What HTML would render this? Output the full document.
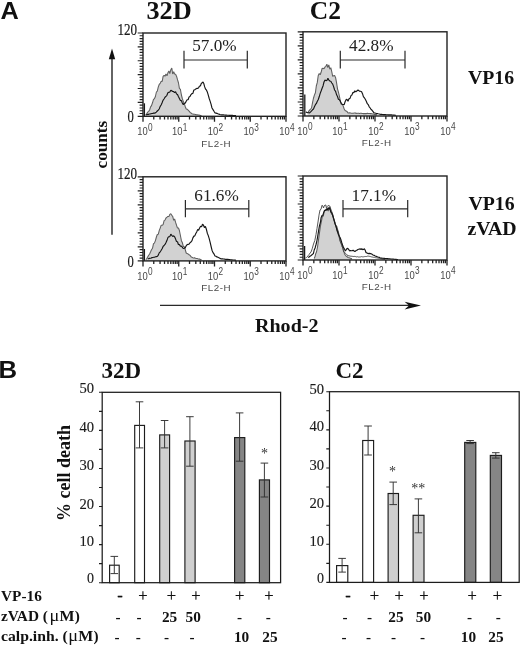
<!DOCTYPE html>
<html><head><meta charset="utf-8"><title>Figure</title>
<style>
html,body{margin:0;padding:0;background:#fff;}
body{width:520px;height:646px;overflow:hidden;}
svg{display:block;filter:grayscale(1);}
text{font-family:"Liberation Serif",serif;fill:#111;}
.pl{font-family:"Liberation Sans",sans-serif;font-weight:bold;font-size:23px;fill:#111;}
.t25{font-weight:bold;font-size:25.5px;}
.t23{font-weight:bold;font-size:23px;}
.t20{font-weight:bold;font-size:19.8px;}
.t19{font-weight:bold;font-size:19px;}
.t17{font-weight:bold;font-size:17.5px;}
.t15{font-weight:bold;font-size:15.3px;}
.mu{font-weight:normal;font-size:16.5px;}
.pm{font-weight:normal;font-size:16.5px;fill:#111;stroke:#111;stroke-width:0.25px;}
.pct{font-size:17.2px;fill:#222;}
.yl{font-size:15.8px;fill:#1a1a1a;stroke:#1a1a1a;stroke-width:0.2px;}
.bl{font-size:15.6px;fill:#1a1a1a;stroke:#1a1a1a;stroke-width:0.15px;}
.star{font-size:14px;fill:#333;}
.xs{font-family:"Liberation Sans",sans-serif;font-size:10.5px;fill:#474747;}
.fl{font-family:"Liberation Sans",sans-serif;font-size:9.8px;letter-spacing:0.55px;fill:#4a4a4a;}
</style></head>
<body>
<svg width="520" height="646" viewBox="0 0 520 646">
<rect x="0" y="0" width="520" height="646" fill="#fff"/>
<text x="0.6" y="18.8" class="pl" textLength="18.3" lengthAdjust="spacingAndGlyphs">A</text>
<text x="146.5" y="18.8" class="t25" textLength="45.2" lengthAdjust="spacingAndGlyphs">32D</text>
<text x="309.8" y="18.6" class="t25">C2</text>
<path d="M145.8 114.8 L146.8 113.5 L147.7 112.1 L148.7 111.4 L149.6 110.0 L150.6 106.9 L151.5 105.6 L152.5 102.8 L153.5 99.4 L154.4 98.8 L155.4 96.5 L156.4 92.0 L157.3 91.1 L158.3 86.9 L159.3 84.3 L160.2 83.4 L161.2 81.2 L162.2 81.5 L163.1 76.3 L164.1 75.3 L165.0 76.2 L166.0 74.0 L167.0 75.8 L167.9 72.8 L168.9 70.9 L169.8 73.5 L170.8 69.8 L171.8 68.1 L172.7 74.0 L173.7 71.7 L174.6 74.0 L175.6 74.3 L176.6 76.4 L177.5 79.7 L178.5 83.0 L179.4 88.4 L180.4 89.3 L181.4 95.0 L182.3 98.5 L183.3 101.6 L184.2 103.4 L185.2 106.5 L186.2 109.0 L187.2 109.2 L188.1 110.1 L189.1 111.1 L190.1 112.3 L191.0 113.0 L192.0 113.8 L192.9 113.9 L193.7 114.2 L194.6 114.3 L195.5 114.4 L196.3 114.7 L197.2 114.8 L198.0 114.9 L198.9 115.1 L199.8 115.3 L200.6 115.5 L201.5 115.6 L201.5 116.3 L145.8 116.3 Z" fill="#d2d2d2" stroke="none"/>
<path d="M145.8 114.8 L146.8 113.5 L147.7 112.1 L148.7 111.4 L149.6 110.0 L150.6 106.9 L151.5 105.6 L152.5 102.8 L153.5 99.4 L154.4 98.8 L155.4 96.5 L156.4 92.0 L157.3 91.1 L158.3 86.9 L159.3 84.3 L160.2 83.4 L161.2 81.2 L162.2 81.5 L163.1 76.3 L164.1 75.3 L165.0 76.2 L166.0 74.0 L167.0 75.8 L167.9 72.8 L168.9 70.9 L169.8 73.5 L170.8 69.8 L171.8 68.1 L172.7 74.0 L173.7 71.7 L174.6 74.0 L175.6 74.3 L176.6 76.4 L177.5 79.7 L178.5 83.0 L179.4 88.4 L180.4 89.3 L181.4 95.0 L182.3 98.5 L183.3 101.6 L184.2 103.4 L185.2 106.5 L186.2 109.0 L187.2 109.2 L188.1 110.1 L189.1 111.1 L190.1 112.3 L191.0 113.0 L192.0 113.8 L192.9 113.9 L193.7 114.2 L194.6 114.3 L195.5 114.4 L196.3 114.7 L197.2 114.8 L198.0 114.9 L198.9 115.1 L199.8 115.3 L200.6 115.5 L201.5 115.6" fill="none" stroke="#5e5e5e" stroke-width="1.05" stroke-linejoin="bevel"/>
<path d="M145.8 114.8 L146.7 114.7 L147.5 114.4 L148.4 114.4 L149.3 114.0 L150.2 113.9 L151.0 113.8 L151.9 113.5 L152.8 113.4 L153.7 113.1 L154.5 113.1 L155.4 112.9 L156.3 112.1 L157.3 111.0 L158.2 110.2 L159.2 109.0 L160.1 106.6 L161.1 105.0 L162.1 102.7 L163.0 100.4 L164.0 99.0 L165.0 97.2 L165.9 96.5 L166.9 95.3 L167.9 92.7 L168.8 92.2 L169.8 92.1 L170.8 90.2 L171.7 90.8 L172.7 91.5 L173.6 91.6 L174.6 92.7 L175.6 91.7 L176.6 94.1 L177.5 94.6 L178.4 96.6 L179.4 98.5 L180.4 100.4 L181.4 100.6 L182.3 103.0 L183.3 104.6 L184.2 103.4 L185.2 103.3 L186.2 101.2 L187.1 99.7 L188.1 99.8 L189.0 97.1 L190.0 96.5 L191.0 94.6 L191.9 93.6 L192.9 93.4 L193.8 90.1 L194.8 89.8 L195.8 88.9 L196.7 88.4 L197.7 88.5 L198.6 87.6 L199.6 86.0 L200.4 86.0 L201.3 83.4 L202.2 82.8 L203.0 82.0 L203.8 83.6 L204.7 86.9 L205.5 89.0 L206.3 89.8 L207.3 91.9 L208.2 94.9 L209.2 98.5 L210.1 101.1 L211.1 104.4 L212.0 108.0 L213.0 109.6 L214.0 111.3 L215.0 112.9 L216.0 113.1 L216.9 113.4 L217.9 113.8 L218.9 114.1 L219.8 114.5 L220.8 114.8 L221.7 114.9 L222.6 114.9 L223.5 114.9 L224.4 115.0 L225.3 115.1 L226.2 115.0 L227.1 115.2 L228.0 115.2 L228.8 115.3 L229.7 115.3 L230.6 115.3 L231.5 115.4 L232.4 115.4 L233.3 115.5 L234.2 115.5 L235.1 115.5 L236.0 115.6" fill="none" stroke="#161616" stroke-width="1.15" stroke-linejoin="bevel"/>
<path d="M144.4 103.3 V116.3" stroke="#1a1a1a" stroke-width="1.3"/>
<rect x="143.0" y="33.0" width="143.0" height="83.3" fill="none" stroke="#222" stroke-width="1.4"/>
<path d="M137.7 33.00H143.0M139.6 35.78H143.0M139.6 38.55H143.0M139.6 41.33H143.0M139.6 44.11H143.0M137.7 46.88H143.0M139.6 49.66H143.0M139.6 52.44H143.0M139.6 55.21H143.0M139.6 57.99H143.0M137.7 60.77H143.0M139.6 63.54H143.0M139.6 66.32H143.0M139.6 69.10H143.0M139.6 71.87H143.0M137.7 74.65H143.0M139.6 77.43H143.0M139.6 80.20H143.0M139.6 82.98H143.0M139.6 85.76H143.0M137.7 88.53H143.0M139.6 91.31H143.0M139.6 94.09H143.0M139.6 96.86H143.0M139.6 99.64H143.0M137.7 102.42H143.0M139.6 105.19H143.0M139.6 107.97H143.0M139.6 110.75H143.0M139.6 113.52H143.0M137.7 116.30H143.0" stroke="#222" stroke-width="1.15"/>
<path d="M143.00 116.3V121.8M153.76 116.3V119.5M160.06 116.3V119.5M164.52 116.3V119.5M167.99 116.3V119.5M170.82 116.3V119.5M173.21 116.3V119.5M175.29 116.3V119.5M177.11 116.3V119.5M178.75 116.3V121.8M189.51 116.3V119.5M195.81 116.3V119.5M200.27 116.3V119.5M203.74 116.3V119.5M206.57 116.3V119.5M208.96 116.3V119.5M211.04 116.3V119.5M212.86 116.3V119.5M214.50 116.3V121.8M225.26 116.3V119.5M231.56 116.3V119.5M236.02 116.3V119.5M239.49 116.3V119.5M242.32 116.3V119.5M244.71 116.3V119.5M246.79 116.3V119.5M248.61 116.3V119.5M250.25 116.3V121.8M261.01 116.3V119.5M267.31 116.3V119.5M271.77 116.3V119.5M275.24 116.3V119.5M278.07 116.3V119.5M280.46 116.3V119.5M282.54 116.3V119.5M284.36 116.3V119.5M286.00 116.3V121.8" stroke="#222" stroke-width="1.3"/>
<text x="142.5" y="135.4" class="xs" text-anchor="middle" textLength="10.5" lengthAdjust="spacingAndGlyphs">10</text>
<text x="147.9" y="130.5" class="xs" textLength="4.6" lengthAdjust="spacingAndGlyphs">0</text>
<text x="177.3" y="135.4" class="xs" text-anchor="middle" textLength="10.5" lengthAdjust="spacingAndGlyphs">10</text>
<text x="182.8" y="130.5" class="xs" textLength="4.6" lengthAdjust="spacingAndGlyphs">1</text>
<text x="213.1" y="135.4" class="xs" text-anchor="middle" textLength="10.5" lengthAdjust="spacingAndGlyphs">10</text>
<text x="218.5" y="130.5" class="xs" textLength="4.6" lengthAdjust="spacingAndGlyphs">2</text>
<text x="248.8" y="135.4" class="xs" text-anchor="middle" textLength="10.5" lengthAdjust="spacingAndGlyphs">10</text>
<text x="254.2" y="130.5" class="xs" textLength="4.6" lengthAdjust="spacingAndGlyphs">3</text>
<text x="284.6" y="135.4" class="xs" text-anchor="middle" textLength="10.5" lengthAdjust="spacingAndGlyphs">10</text>
<text x="290.0" y="130.5" class="xs" textLength="4.6" lengthAdjust="spacingAndGlyphs">4</text>
<text x="216.2" y="146.6" class="fl" text-anchor="middle">FL2-H</text>
<text x="137.0" y="35.0" class="yl" text-anchor="end" textLength="19.6" lengthAdjust="spacingAndGlyphs">120</text>
<text x="133.8" y="121.9" class="yl" text-anchor="end" textLength="6.3" lengthAdjust="spacingAndGlyphs">0</text>
<path d="M184.0 50.8V68.6M247.3 50.8V68.6M184.0 60.0H247.3" stroke="#2a2a2a" stroke-width="1.2" fill="none"/>
<text x="214.4" y="51.4" class="pct" text-anchor="middle">57.0%</text>
<path d="M307.7 112.9 L308.6 111.4 L309.6 110.1 L310.6 109.0 L311.5 108.0 L312.5 102.9 L313.4 98.5 L314.4 95.1 L315.4 92.7 L316.3 86.0 L317.3 82.4 L318.2 75.7 L319.2 73.5 L320.2 74.7 L321.1 72.3 L322.1 68.5 L323.0 68.2 L324.0 68.7 L325.0 67.0 L325.9 66.3 L326.9 64.1 L327.8 67.7 L328.8 64.8 L329.8 69.2 L330.8 67.7 L331.8 71.8 L332.7 76.3 L333.6 75.8 L334.6 75.4 L335.6 77.7 L336.5 82.4 L337.5 88.8 L338.5 92.3 L339.4 96.2 L340.4 101.3 L341.3 104.3 L342.3 104.3 L343.2 106.1 L344.2 109.0 L345.1 110.5 L346.1 111.0 L347.1 111.6 L348.0 112.9 L348.9 113.0 L349.8 112.7 L350.6 113.0 L351.5 113.3 L352.4 113.3 L353.3 113.2 L354.2 113.0 L355.1 113.1 L355.9 113.1 L356.8 113.4 L357.7 113.3 L358.6 113.3 L359.5 113.5 L360.4 113.3 L361.2 113.2 L362.1 113.5 L363.0 113.6 L363.9 113.6 L364.8 113.6 L365.7 113.6 L366.5 113.6 L367.4 113.3 L368.3 113.5 L369.2 113.5 L370.1 113.6 L370.9 113.6 L371.8 113.8 L372.7 114.0 L373.5 114.1 L374.4 114.4 L375.3 114.6 L376.1 114.6 L377.0 114.8 L377.0 116.0 L307.7 116.0 Z" fill="#d2d2d2" stroke="none"/>
<path d="M307.7 112.9 L308.6 111.4 L309.6 110.1 L310.6 109.0 L311.5 108.0 L312.5 102.9 L313.4 98.5 L314.4 95.1 L315.4 92.7 L316.3 86.0 L317.3 82.4 L318.2 75.7 L319.2 73.5 L320.2 74.7 L321.1 72.3 L322.1 68.5 L323.0 68.2 L324.0 68.7 L325.0 67.0 L325.9 66.3 L326.9 64.1 L327.8 67.7 L328.8 64.8 L329.8 69.2 L330.8 67.7 L331.8 71.8 L332.7 76.3 L333.6 75.8 L334.6 75.4 L335.6 77.7 L336.5 82.4 L337.5 88.8 L338.5 92.3 L339.4 96.2 L340.4 101.3 L341.3 104.3 L342.3 104.3 L343.2 106.1 L344.2 109.0 L345.1 110.5 L346.1 111.0 L347.1 111.6 L348.0 112.9 L348.9 113.0 L349.8 112.7 L350.6 113.0 L351.5 113.3 L352.4 113.3 L353.3 113.2 L354.2 113.0 L355.1 113.1 L355.9 113.1 L356.8 113.4 L357.7 113.3 L358.6 113.3 L359.5 113.5 L360.4 113.3 L361.2 113.2 L362.1 113.5 L363.0 113.6 L363.9 113.6 L364.8 113.6 L365.7 113.6 L366.5 113.6 L367.4 113.3 L368.3 113.5 L369.2 113.5 L370.1 113.6 L370.9 113.6 L371.8 113.8 L372.7 114.0 L373.5 114.1 L374.4 114.4 L375.3 114.6 L376.1 114.6 L377.0 114.8" fill="none" stroke="#5e5e5e" stroke-width="1.05" stroke-linejoin="bevel"/>
<path d="M305.8 112.0 L306.8 112.4 L307.7 112.6 L308.7 112.8 L309.6 112.9 L310.6 111.9 L311.6 110.8 L312.5 109.8 L313.5 109.0 L314.4 106.7 L315.4 104.7 L316.4 103.4 L317.3 101.3 L318.3 99.5 L319.2 96.8 L320.2 93.4 L321.2 90.8 L322.1 88.3 L323.1 85.7 L324.0 82.0 L325.0 79.9 L325.9 80.6 L326.9 80.4 L327.9 78.3 L328.9 80.1 L329.8 81.0 L330.8 81.2 L331.8 83.0 L332.7 84.1 L333.7 86.9 L334.6 90.0 L335.6 91.3 L336.6 94.8 L337.5 96.5 L338.4 99.2 L339.4 99.7 L340.4 101.4 L341.3 103.3 L342.3 104.5 L343.2 104.5 L344.2 104.6 L345.2 101.4 L346.2 99.4 L347.1 99.6 L348.0 101.3 L349.0 98.7 L350.0 98.4 L351.0 95.6 L351.9 95.1 L352.9 92.4 L353.9 92.8 L354.8 90.8 L355.8 91.9 L356.8 91.0 L357.7 90.1 L358.7 90.4 L359.6 91.3 L360.6 91.2 L361.6 91.7 L362.5 93.7 L363.4 96.6 L364.4 97.8 L365.4 99.5 L366.3 101.3 L367.3 103.7 L368.2 104.6 L369.2 106.8 L370.2 108.0 L371.1 109.5 L372.1 110.3 L373.1 111.6 L374.0 112.9 L374.9 113.0 L375.7 113.2 L376.6 113.5 L377.4 113.6 L378.2 113.8 L379.1 114.0 L379.9 114.3 L380.8 114.4 L381.7 114.4 L382.6 114.5 L383.5 114.6 L384.4 114.6 L385.3 114.6 L386.2 114.7 L387.1 114.7 L388.0 114.8 L388.8 114.8 L389.7 114.8 L390.6 114.9 L391.5 114.9 L392.4 115.0 L393.3 115.1 L394.2 115.1 L395.1 115.2 L396.0 115.2" fill="none" stroke="#161616" stroke-width="1.15" stroke-linejoin="bevel"/>
<path d="M304.8 94.6 V116.0" stroke="#1a1a1a" stroke-width="1.3"/>
<rect x="303.0" y="31.8" width="144.0" height="84.2" fill="none" stroke="#222" stroke-width="1.4"/>
<path d="M297.7 31.80H303.0M299.6 34.61H303.0M299.6 37.41H303.0M299.6 40.22H303.0M299.6 43.03H303.0M297.7 45.83H303.0M299.6 48.64H303.0M299.6 51.45H303.0M299.6 54.25H303.0M299.6 57.06H303.0M297.7 59.87H303.0M299.6 62.67H303.0M299.6 65.48H303.0M299.6 68.29H303.0M299.6 71.09H303.0M297.7 73.90H303.0M299.6 76.71H303.0M299.6 79.51H303.0M299.6 82.32H303.0M299.6 85.13H303.0M297.7 87.93H303.0M299.6 90.74H303.0M299.6 93.55H303.0M299.6 96.35H303.0M299.6 99.16H303.0M297.7 101.97H303.0M299.6 104.77H303.0M299.6 107.58H303.0M299.6 110.39H303.0M299.6 113.19H303.0M297.7 116.00H303.0" stroke="#222" stroke-width="1.15"/>
<path d="M303.00 116.0V121.5M313.84 116.0V119.2M320.18 116.0V119.2M324.67 116.0V119.2M328.16 116.0V119.2M331.01 116.0V119.2M333.42 116.0V119.2M335.51 116.0V119.2M337.35 116.0V119.2M339.00 116.0V121.5M349.84 116.0V119.2M356.18 116.0V119.2M360.67 116.0V119.2M364.16 116.0V119.2M367.01 116.0V119.2M369.42 116.0V119.2M371.51 116.0V119.2M373.35 116.0V119.2M375.00 116.0V121.5M385.84 116.0V119.2M392.18 116.0V119.2M396.67 116.0V119.2M400.16 116.0V119.2M403.01 116.0V119.2M405.42 116.0V119.2M407.51 116.0V119.2M409.35 116.0V119.2M411.00 116.0V121.5M421.84 116.0V119.2M428.18 116.0V119.2M432.67 116.0V119.2M436.16 116.0V119.2M439.01 116.0V119.2M441.42 116.0V119.2M443.51 116.0V119.2M445.35 116.0V119.2M447.00 116.0V121.5" stroke="#222" stroke-width="1.3"/>
<text x="302.5" y="135.1" class="xs" text-anchor="middle" textLength="10.5" lengthAdjust="spacingAndGlyphs">10</text>
<text x="307.9" y="130.2" class="xs" textLength="4.6" lengthAdjust="spacingAndGlyphs">0</text>
<text x="337.6" y="135.1" class="xs" text-anchor="middle" textLength="10.5" lengthAdjust="spacingAndGlyphs">10</text>
<text x="343.0" y="130.2" class="xs" textLength="4.6" lengthAdjust="spacingAndGlyphs">1</text>
<text x="373.6" y="135.1" class="xs" text-anchor="middle" textLength="10.5" lengthAdjust="spacingAndGlyphs">10</text>
<text x="379.0" y="130.2" class="xs" textLength="4.6" lengthAdjust="spacingAndGlyphs">2</text>
<text x="409.6" y="135.1" class="xs" text-anchor="middle" textLength="10.5" lengthAdjust="spacingAndGlyphs">10</text>
<text x="415.0" y="130.2" class="xs" textLength="4.6" lengthAdjust="spacingAndGlyphs">3</text>
<text x="445.6" y="135.1" class="xs" text-anchor="middle" textLength="10.5" lengthAdjust="spacingAndGlyphs">10</text>
<text x="451.0" y="130.2" class="xs" textLength="4.6" lengthAdjust="spacingAndGlyphs">4</text>
<text x="376.7" y="146.3" class="fl" text-anchor="middle">FL2-H</text>
<path d="M340.3 50.8V68.6M405.0 50.8V68.6M340.3 60.0H405.0" stroke="#2a2a2a" stroke-width="1.2" fill="none"/>
<text x="371.3" y="51.4" class="pct" text-anchor="middle">42.8%</text>
<path d="M145.8 259.8 L146.8 258.5 L147.7 256.9 L148.7 255.3 L149.6 254.0 L150.6 251.8 L151.5 249.7 L152.5 248.3 L153.5 243.6 L154.4 243.1 L155.4 240.6 L156.4 237.0 L157.3 234.5 L158.3 234.2 L159.3 230.4 L160.2 228.1 L161.2 225.2 L162.2 225.2 L163.1 224.6 L164.1 220.6 L165.0 220.1 L166.0 218.0 L167.0 217.2 L167.9 216.4 L168.9 216.6 L169.8 214.4 L170.8 213.8 L171.8 215.3 L172.7 216.3 L173.7 220.3 L174.6 219.0 L175.6 222.4 L176.6 225.5 L177.5 228.1 L178.5 228.0 L179.4 230.5 L180.4 235.5 L181.4 240.7 L182.3 242.5 L183.3 246.4 L184.2 246.6 L185.2 249.5 L186.2 253.0 L187.2 253.6 L188.1 253.9 L189.1 254.8 L190.1 255.4 L191.0 256.7 L192.0 257.3 L192.9 257.7 L193.7 258.0 L194.6 257.7 L195.5 258.2 L196.3 258.4 L197.2 258.4 L198.0 258.9 L198.9 259.1 L199.8 259.1 L200.6 259.5 L201.5 259.6 L201.5 260.9 L145.8 260.9 Z" fill="#d2d2d2" stroke="none"/>
<path d="M145.8 259.8 L146.8 258.5 L147.7 256.9 L148.7 255.3 L149.6 254.0 L150.6 251.8 L151.5 249.7 L152.5 248.3 L153.5 243.6 L154.4 243.1 L155.4 240.6 L156.4 237.0 L157.3 234.5 L158.3 234.2 L159.3 230.4 L160.2 228.1 L161.2 225.2 L162.2 225.2 L163.1 224.6 L164.1 220.6 L165.0 220.1 L166.0 218.0 L167.0 217.2 L167.9 216.4 L168.9 216.6 L169.8 214.4 L170.8 213.8 L171.8 215.3 L172.7 216.3 L173.7 220.3 L174.6 219.0 L175.6 222.4 L176.6 225.5 L177.5 228.1 L178.5 228.0 L179.4 230.5 L180.4 235.5 L181.4 240.7 L182.3 242.5 L183.3 246.4 L184.2 246.6 L185.2 249.5 L186.2 253.0 L187.2 253.6 L188.1 253.9 L189.1 254.8 L190.1 255.4 L191.0 256.7 L192.0 257.3 L192.9 257.7 L193.7 258.0 L194.6 257.7 L195.5 258.2 L196.3 258.4 L197.2 258.4 L198.0 258.9 L198.9 259.1 L199.8 259.1 L200.6 259.5 L201.5 259.6" fill="none" stroke="#5e5e5e" stroke-width="1.05" stroke-linejoin="bevel"/>
<path d="M147.7 258.8 L148.6 258.6 L149.4 258.4 L150.3 258.3 L151.2 258.1 L152.1 257.6 L152.9 257.5 L153.8 257.3 L154.7 257.1 L155.6 256.8 L156.4 256.6 L157.3 256.5 L158.3 255.1 L159.2 252.9 L160.2 251.8 L161.2 250.2 L162.1 248.7 L163.1 246.4 L164.1 245.5 L165.0 244.4 L165.9 242.7 L166.9 240.6 L167.9 237.6 L168.8 236.7 L169.8 236.6 L170.8 234.2 L171.8 235.4 L172.7 236.4 L173.7 235.8 L174.6 236.8 L175.6 239.1 L176.5 241.5 L177.5 241.7 L178.4 244.5 L179.4 244.6 L180.4 246.3 L181.3 246.1 L182.3 247.2 L183.2 248.5 L184.2 248.3 L185.1 247.9 L186.1 245.9 L187.1 244.7 L188.0 244.4 L189.0 244.3 L190.0 242.7 L191.0 242.0 L192.0 240.6 L192.9 237.9 L193.9 236.1 L194.8 235.9 L195.8 233.5 L196.7 232.0 L197.7 229.4 L198.6 230.3 L199.6 228.0 L200.6 226.2 L201.6 226.7 L202.5 224.3 L203.5 225.2 L204.4 227.5 L205.4 226.5 L206.3 229.0 L207.3 233.2 L208.2 235.4 L209.2 238.7 L210.1 242.2 L211.1 246.5 L212.0 250.2 L213.0 252.6 L214.0 253.9 L215.0 256.0 L216.0 256.3 L216.9 256.9 L217.9 257.3 L218.9 257.7 L219.8 258.2 L220.8 258.8 L221.7 258.8 L222.6 258.9 L223.5 259.0 L224.4 259.1 L225.3 259.3 L226.2 259.3 L227.1 259.4 L228.0 259.4 L228.8 259.5 L229.7 259.6 L230.6 259.7 L231.5 259.7 L232.4 259.9 L233.3 260.0 L234.2 260.0 L235.1 260.1 L236.0 260.2" fill="none" stroke="#161616" stroke-width="1.15" stroke-linejoin="bevel"/>
<path d="M144.4 249.0 V260.9" stroke="#1a1a1a" stroke-width="1.3"/>
<rect x="143.0" y="176.8" width="143.0" height="84.1" fill="none" stroke="#222" stroke-width="1.4"/>
<path d="M137.7 176.80H143.0M139.6 179.60H143.0M139.6 182.41H143.0M139.6 185.21H143.0M139.6 188.01H143.0M137.7 190.82H143.0M139.6 193.62H143.0M139.6 196.42H143.0M139.6 199.23H143.0M139.6 202.03H143.0M137.7 204.83H143.0M139.6 207.64H143.0M139.6 210.44H143.0M139.6 213.24H143.0M139.6 216.05H143.0M137.7 218.85H143.0M139.6 221.65H143.0M139.6 224.46H143.0M139.6 227.26H143.0M139.6 230.06H143.0M137.7 232.87H143.0M139.6 235.67H143.0M139.6 238.47H143.0M139.6 241.28H143.0M139.6 244.08H143.0M137.7 246.88H143.0M139.6 249.69H143.0M139.6 252.49H143.0M139.6 255.29H143.0M139.6 258.10H143.0M137.7 260.90H143.0" stroke="#222" stroke-width="1.15"/>
<path d="M143.00 260.9V266.4M153.76 260.9V264.1M160.06 260.9V264.1M164.52 260.9V264.1M167.99 260.9V264.1M170.82 260.9V264.1M173.21 260.9V264.1M175.29 260.9V264.1M177.11 260.9V264.1M178.75 260.9V266.4M189.51 260.9V264.1M195.81 260.9V264.1M200.27 260.9V264.1M203.74 260.9V264.1M206.57 260.9V264.1M208.96 260.9V264.1M211.04 260.9V264.1M212.86 260.9V264.1M214.50 260.9V266.4M225.26 260.9V264.1M231.56 260.9V264.1M236.02 260.9V264.1M239.49 260.9V264.1M242.32 260.9V264.1M244.71 260.9V264.1M246.79 260.9V264.1M248.61 260.9V264.1M250.25 260.9V266.4M261.01 260.9V264.1M267.31 260.9V264.1M271.77 260.9V264.1M275.24 260.9V264.1M278.07 260.9V264.1M280.46 260.9V264.1M282.54 260.9V264.1M284.36 260.9V264.1M286.00 260.9V266.4" stroke="#222" stroke-width="1.3"/>
<text x="142.5" y="280.0" class="xs" text-anchor="middle" textLength="10.5" lengthAdjust="spacingAndGlyphs">10</text>
<text x="147.9" y="275.1" class="xs" textLength="4.6" lengthAdjust="spacingAndGlyphs">0</text>
<text x="177.3" y="280.0" class="xs" text-anchor="middle" textLength="10.5" lengthAdjust="spacingAndGlyphs">10</text>
<text x="182.8" y="275.1" class="xs" textLength="4.6" lengthAdjust="spacingAndGlyphs">1</text>
<text x="213.1" y="280.0" class="xs" text-anchor="middle" textLength="10.5" lengthAdjust="spacingAndGlyphs">10</text>
<text x="218.5" y="275.1" class="xs" textLength="4.6" lengthAdjust="spacingAndGlyphs">2</text>
<text x="248.8" y="280.0" class="xs" text-anchor="middle" textLength="10.5" lengthAdjust="spacingAndGlyphs">10</text>
<text x="254.2" y="275.1" class="xs" textLength="4.6" lengthAdjust="spacingAndGlyphs">3</text>
<text x="284.6" y="280.0" class="xs" text-anchor="middle" textLength="10.5" lengthAdjust="spacingAndGlyphs">10</text>
<text x="290.0" y="275.1" class="xs" textLength="4.6" lengthAdjust="spacingAndGlyphs">4</text>
<text x="216.2" y="291.2" class="fl" text-anchor="middle">FL2-H</text>
<text x="137.0" y="178.8" class="yl" text-anchor="end" textLength="19.6" lengthAdjust="spacingAndGlyphs">120</text>
<text x="133.8" y="266.5" class="yl" text-anchor="end" textLength="6.3" lengthAdjust="spacingAndGlyphs">0</text>
<path d="M185.4 200.0V217.3M248.8 200.0V217.3M185.4 208.8H248.8" stroke="#2a2a2a" stroke-width="1.2" fill="none"/>
<text x="216.5" y="200.8" class="pct" text-anchor="middle">61.6%</text>
<path d="M314.2 258.5 L315.0 256.6 L315.7 253.7 L316.5 252.0 L317.5 247.1 L318.5 240.0 L319.5 232.7 L320.5 226.0 L321.5 221.0 L322.5 216.0 L323.3 216.2 L324.2 211.7 L325.0 210.5 L325.8 209.9 L326.7 210.3 L327.5 208.5 L328.3 211.2 L329.0 207.1 L329.8 207.8 L330.7 212.1 L331.5 213.6 L332.4 214.7 L333.3 218.3 L334.1 219.8 L335.0 222.4 L335.9 226.0 L336.8 226.4 L337.6 229.4 L338.4 231.8 L339.3 236.3 L340.2 240.5 L341.1 241.8 L342.0 246.0 L342.8 247.8 L343.7 250.5 L344.5 254.0 L345.4 255.2 L346.2 256.1 L347.1 256.7 L348.0 257.5 L349.0 257.7 L350.0 258.1 L351.0 258.4 L352.0 258.8 L352.0 260.0 L314.2 260.0 Z" fill="#d2d2d2" stroke="none"/>
<path d="M314.2 258.5 L315.0 256.6 L315.7 253.7 L316.5 252.0 L317.5 247.1 L318.5 240.0 L319.5 232.7 L320.5 226.0 L321.5 221.0 L322.5 216.0 L323.3 216.2 L324.2 211.7 L325.0 210.5 L325.8 209.9 L326.7 210.3 L327.5 208.5 L328.3 211.2 L329.0 207.1 L329.8 207.8 L330.7 212.1 L331.5 213.6 L332.4 214.7 L333.3 218.3 L334.1 219.8 L335.0 222.4 L335.9 226.0 L336.8 226.4 L337.6 229.4 L338.4 231.8 L339.3 236.3 L340.2 240.5 L341.1 241.8 L342.0 246.0 L342.8 247.8 L343.7 250.5 L344.5 254.0 L345.4 255.2 L346.2 256.1 L347.1 256.7 L348.0 257.5 L349.0 257.7 L350.0 258.1 L351.0 258.4 L352.0 258.8" fill="none" stroke="#5e5e5e" stroke-width="1.05" stroke-linejoin="bevel"/>
<path d="M305.5 258.0 L306.4 257.5 L307.3 257.0 L308.2 255.6 L309.1 254.5 L310.1 253.0 L311.0 252.0 L312.2 248.8 L313.5 244.0 L314.8 240.5 L316.0 234.6 L317.0 228.4 L318.0 222.0 L319.0 215.1 L320.0 210.0 L321.0 209.3 L322.0 205.2 L322.8 205.9 L323.5 208.0 L324.2 206.0 L325.0 205.0 L325.8 205.0 L326.5 208.5 L327.2 206.6 L328.0 205.5 L328.9 205.7 L329.8 206.0 L330.6 208.5 L331.5 211.0 L332.8 214.4 L334.0 220.0 L335.0 223.7 L336.0 225.8 L337.0 231.0 L338.0 233.7 L339.0 236.6 L340.0 241.0 L340.9 243.5 L341.9 245.6 L342.8 248.5 L343.7 252.0 L344.8 252.7 L345.9 253.6 L346.9 254.8 L348.0 255.7 L349.0 255.8 L350.1 256.1 L351.1 256.2 L352.2 256.3 L353.2 256.5 L354.2 256.4 L355.3 256.5 L356.3 256.9 L357.4 256.7 L358.4 257.0 L359.4 257.0 L360.5 256.9 L361.5 256.6 L362.5 256.8 L363.5 256.8 L364.6 256.6 L365.6 256.5 L366.6 256.5 L367.7 256.1 L368.7 256.2 L369.7 256.4 L370.6 256.6 L371.6 256.9 L372.6 257.1 L373.5 257.3 L374.5 257.4 L375.5 257.7 L376.4 257.8 L377.4 258.0 L378.3 258.2 L379.3 258.3 L380.2 258.5 L381.2 258.7 L382.1 258.9 L383.1 259.1 L384.1 259.3 L385.0 259.5" fill="none" stroke="#444" stroke-width="0.9"/>
<path d="M308.2 257.6 L309.1 257.0 L309.9 256.3 L310.8 255.7 L311.7 255.0 L312.5 254.3 L313.4 253.6 L314.2 250.0 L315.1 248.0 L315.9 245.0 L316.8 241.5 L317.7 236.3 L318.5 231.3 L319.4 226.0 L320.3 223.0 L321.1 217.7 L322.0 215.6 L322.9 215.1 L323.8 212.2 L324.6 210.3 L325.5 210.4 L326.4 209.1 L327.2 210.1 L328.1 207.9 L328.9 209.1 L329.8 207.8 L330.7 211.7 L331.5 212.4 L332.4 214.7 L333.3 217.2 L334.1 220.3 L335.0 223.7 L335.9 226.0 L336.8 229.3 L337.6 231.5 L338.4 234.1 L339.3 236.3 L340.2 237.7 L341.1 240.3 L341.9 242.9 L342.8 245.8 L343.7 247.9 L344.5 249.0 L345.4 251.0 L346.2 249.8 L347.1 248.4 L348.0 248.6 L348.8 249.6 L349.7 251.0 L350.6 250.5 L351.4 250.8 L352.3 250.6 L353.2 250.2 L354.0 251.1 L354.9 251.6 L355.8 250.8 L356.6 250.5 L357.5 249.8 L358.4 249.3 L359.3 249.2 L360.1 248.6 L361.0 249.6 L361.8 248.6 L362.7 249.6 L363.5 249.5 L364.4 248.8 L365.2 250.3 L366.1 252.8 L367.0 252.9 L367.9 253.4 L368.7 253.6 L369.6 253.4 L370.5 253.6 L371.4 253.9 L372.2 254.3 L373.1 255.2 L374.0 255.2 L374.8 255.8 L375.7 256.2 L376.6 256.4 L377.4 256.8 L378.3 257.2 L379.2 257.3 L380.0 257.8 L380.9 258.0 L381.8 258.1 L382.6 258.2 L383.5 258.3 L384.3 258.3 L385.2 258.5 L386.1 258.5 L386.9 258.5 L387.8 258.6 L388.6 258.7 L389.5 258.8 L390.4 258.9 L391.4 259.0 L392.3 259.0 L393.3 259.1 L394.2 259.2 L395.2 259.4 L396.1 259.4 L397.1 259.5 L398.0 259.6" fill="none" stroke="#161616" stroke-width="1.15" stroke-linejoin="bevel"/>
<path d="M304.6 246.0 V260.0" stroke="#1a1a1a" stroke-width="1.3"/>
<rect x="303.0" y="176.0" width="144.0" height="84.0" fill="none" stroke="#222" stroke-width="1.4"/>
<path d="M297.7 176.00H303.0M299.6 178.80H303.0M299.6 181.60H303.0M299.6 184.40H303.0M299.6 187.20H303.0M297.7 190.00H303.0M299.6 192.80H303.0M299.6 195.60H303.0M299.6 198.40H303.0M299.6 201.20H303.0M297.7 204.00H303.0M299.6 206.80H303.0M299.6 209.60H303.0M299.6 212.40H303.0M299.6 215.20H303.0M297.7 218.00H303.0M299.6 220.80H303.0M299.6 223.60H303.0M299.6 226.40H303.0M299.6 229.20H303.0M297.7 232.00H303.0M299.6 234.80H303.0M299.6 237.60H303.0M299.6 240.40H303.0M299.6 243.20H303.0M297.7 246.00H303.0M299.6 248.80H303.0M299.6 251.60H303.0M299.6 254.40H303.0M299.6 257.20H303.0M297.7 260.00H303.0" stroke="#222" stroke-width="1.15"/>
<path d="M303.00 260.0V265.5M313.84 260.0V263.2M320.18 260.0V263.2M324.67 260.0V263.2M328.16 260.0V263.2M331.01 260.0V263.2M333.42 260.0V263.2M335.51 260.0V263.2M337.35 260.0V263.2M339.00 260.0V265.5M349.84 260.0V263.2M356.18 260.0V263.2M360.67 260.0V263.2M364.16 260.0V263.2M367.01 260.0V263.2M369.42 260.0V263.2M371.51 260.0V263.2M373.35 260.0V263.2M375.00 260.0V265.5M385.84 260.0V263.2M392.18 260.0V263.2M396.67 260.0V263.2M400.16 260.0V263.2M403.01 260.0V263.2M405.42 260.0V263.2M407.51 260.0V263.2M409.35 260.0V263.2M411.00 260.0V265.5M421.84 260.0V263.2M428.18 260.0V263.2M432.67 260.0V263.2M436.16 260.0V263.2M439.01 260.0V263.2M441.42 260.0V263.2M443.51 260.0V263.2M445.35 260.0V263.2M447.00 260.0V265.5" stroke="#222" stroke-width="1.3"/>
<text x="302.5" y="279.1" class="xs" text-anchor="middle" textLength="10.5" lengthAdjust="spacingAndGlyphs">10</text>
<text x="307.9" y="274.2" class="xs" textLength="4.6" lengthAdjust="spacingAndGlyphs">0</text>
<text x="337.6" y="279.1" class="xs" text-anchor="middle" textLength="10.5" lengthAdjust="spacingAndGlyphs">10</text>
<text x="343.0" y="274.2" class="xs" textLength="4.6" lengthAdjust="spacingAndGlyphs">1</text>
<text x="373.6" y="279.1" class="xs" text-anchor="middle" textLength="10.5" lengthAdjust="spacingAndGlyphs">10</text>
<text x="379.0" y="274.2" class="xs" textLength="4.6" lengthAdjust="spacingAndGlyphs">2</text>
<text x="409.6" y="279.1" class="xs" text-anchor="middle" textLength="10.5" lengthAdjust="spacingAndGlyphs">10</text>
<text x="415.0" y="274.2" class="xs" textLength="4.6" lengthAdjust="spacingAndGlyphs">3</text>
<text x="445.6" y="279.1" class="xs" text-anchor="middle" textLength="10.5" lengthAdjust="spacingAndGlyphs">10</text>
<text x="451.0" y="274.2" class="xs" textLength="4.6" lengthAdjust="spacingAndGlyphs">4</text>
<text x="376.7" y="290.3" class="fl" text-anchor="middle">FL2-H</text>
<path d="M343.0 200.0V217.3M407.7 200.0V217.3M343.0 208.8H407.7" stroke="#2a2a2a" stroke-width="1.2" fill="none"/>
<text x="373.8" y="200.6" class="pct" text-anchor="middle">17.1%</text>
<text x="468" y="83.6" class="t20">VP16</text>
<text x="468.5" y="209.6" class="t20">VP16</text>
<text x="467.5" y="234.5" class="t20">zVAD</text>
<path d="M112 58V234.8" stroke="#444" stroke-width="1.65"/>
<path d="M112 48.6L108.8 59.2L115.2 59.2Z" fill="#111"/>
<text transform="translate(106.6 168.5) rotate(-90)" class="t17" textLength="47.8" lengthAdjust="spacingAndGlyphs">counts</text>
<path d="M160 305.4H409" stroke="#2a2a2a" stroke-width="1.2"/>
<path d="M421 305.4L404.6 301.8L409 305.4L404.6 309.6Z" fill="#111"/>
<text x="255" y="332" class="t20" textLength="63.5" lengthAdjust="spacingAndGlyphs">Rhod-2</text>
<text x="-1.4" y="378" class="pl" textLength="18.6" lengthAdjust="spacingAndGlyphs">B</text>
<text x="101.5" y="377.6" class="t23">32D</text>
<text x="335.5" y="377.8" class="t23">C2</text>
<rect x="109.6" y="565.2" width="9.6" height="17.5" fill="#ffffff" stroke="#1c1c1c" stroke-width="1.15"/>
<path d="M114.3 556.4V573.6M110.5 556.4H118.1M110.5 573.6H118.1" stroke="#303030" stroke-width="0.95" fill="none"/>
<rect x="134.7" y="425.4" width="9.8" height="157.3" fill="#ffffff" stroke="#1c1c1c" stroke-width="1.15"/>
<path d="M139.5 401.8V447.9M135.7 401.8H143.3M135.7 447.9H143.3" stroke="#303030" stroke-width="0.95" fill="none"/>
<rect x="159.7" y="434.9" width="9.9" height="147.8" fill="#cfcfcf" stroke="#1c1c1c" stroke-width="1.15"/>
<path d="M164.6 420.5V447.9M160.8 420.5H168.4M160.8 447.9H168.4" stroke="#303030" stroke-width="0.95" fill="none"/>
<rect x="184.9" y="441.0" width="10.2" height="141.7" fill="#cfcfcf" stroke="#1c1c1c" stroke-width="1.15"/>
<path d="M189.9 416.7V466.2M186.1 416.7H193.7M186.1 466.2H193.7" stroke="#303030" stroke-width="0.95" fill="none"/>
<rect x="234.6" y="437.6" width="10.2" height="145.1" fill="#858585" stroke="#1c1c1c" stroke-width="1.15"/>
<path d="M239.6 412.9V461.2M235.8 412.9H243.4M235.8 461.2H243.4" stroke="#303030" stroke-width="0.95" fill="none"/>
<rect x="259.4" y="479.9" width="10.1" height="102.8" fill="#858585" stroke="#1c1c1c" stroke-width="1.15"/>
<path d="M264.4 463.1V497.0M260.6 463.1H268.2M260.6 497.0H268.2" stroke="#303030" stroke-width="0.95" fill="none"/>
<rect x="102.2" y="392.3" width="178.4" height="190.4" fill="none" stroke="#1c1c1c" stroke-width="1.25"/>
<path d="M99.0 582.70H102.2M99.0 563.66H102.2M99.0 544.62H102.2M99.0 525.58H102.2M99.0 506.54H102.2M99.0 487.50H102.2M99.0 468.46H102.2M99.0 449.42H102.2M99.0 430.38H102.2M99.0 411.34H102.2M99.0 392.30H102.2" stroke="#1c1c1c" stroke-width="1.1"/>
<text x="94.0" y="583.0" class="bl" text-anchor="end" textLength="7.0" lengthAdjust="spacingAndGlyphs">0</text>
<text x="94.0" y="546.2" class="bl" text-anchor="end" textLength="14.6" lengthAdjust="spacingAndGlyphs">10</text>
<text x="94.0" y="508.5" class="bl" text-anchor="end" textLength="14.6" lengthAdjust="spacingAndGlyphs">20</text>
<text x="94.0" y="470.1" class="bl" text-anchor="end" textLength="14.6" lengthAdjust="spacingAndGlyphs">30</text>
<text x="94.0" y="431.8" class="bl" text-anchor="end" textLength="14.6" lengthAdjust="spacingAndGlyphs">40</text>
<text x="94.0" y="393.3" class="bl" text-anchor="end" textLength="14.6" lengthAdjust="spacingAndGlyphs">50</text>
<text x="264.5" y="457.8" class="star" text-anchor="middle">*</text>
<rect x="336.6" y="565.6" width="11.2" height="16.8" fill="#ffffff" stroke="#1c1c1c" stroke-width="1.15"/>
<path d="M342.1 558.4V572.1M338.3 558.4H345.9M338.3 572.1H345.9" stroke="#303030" stroke-width="0.95" fill="none"/>
<rect x="362.7" y="440.5" width="10.9" height="141.9" fill="#ffffff" stroke="#1c1c1c" stroke-width="1.15"/>
<path d="M368.1 426.0V455.0M364.2 426.0H371.9M364.2 455.0H371.9" stroke="#303030" stroke-width="0.95" fill="none"/>
<rect x="388.1" y="493.5" width="10.4" height="88.9" fill="#cfcfcf" stroke="#1c1c1c" stroke-width="1.15"/>
<path d="M393.2 482.1V504.6M389.4 482.1H397.0M389.4 504.6H397.0" stroke="#303030" stroke-width="0.95" fill="none"/>
<rect x="413.1" y="515.3" width="10.9" height="67.1" fill="#cfcfcf" stroke="#1c1c1c" stroke-width="1.15"/>
<path d="M418.4 498.9V532.8M414.6 498.9H422.2M414.6 532.8H422.2" stroke="#303030" stroke-width="0.95" fill="none"/>
<rect x="464.7" y="442.4" width="11.1" height="140.0" fill="#858585" stroke="#1c1c1c" stroke-width="1.15"/>
<path d="M470.1 440.5V443.6M466.3 440.5H473.9M466.3 443.6H473.9" stroke="#303030" stroke-width="0.95" fill="none"/>
<rect x="490.3" y="455.4" width="11.2" height="127.0" fill="#858585" stroke="#1c1c1c" stroke-width="1.15"/>
<path d="M495.8 452.7V458.1M492.0 452.7H499.6M492.0 458.1H499.6" stroke="#303030" stroke-width="0.95" fill="none"/>
<rect x="329.5" y="391.7" width="189.7" height="190.7" fill="none" stroke="#1c1c1c" stroke-width="1.25"/>
<path d="M326.3 582.40H329.5M326.3 563.33H329.5M326.3 544.26H329.5M326.3 525.19H329.5M326.3 506.12H329.5M326.3 487.05H329.5M326.3 467.98H329.5M326.3 448.91H329.5M326.3 429.84H329.5M326.3 410.77H329.5M326.3 391.70H329.5" stroke="#1c1c1c" stroke-width="1.1"/>
<text x="324.0" y="582.7" class="bl" text-anchor="end" textLength="7.0" lengthAdjust="spacingAndGlyphs">0</text>
<text x="324.0" y="546.1" class="bl" text-anchor="end" textLength="14.6" lengthAdjust="spacingAndGlyphs">10</text>
<text x="324.0" y="508.1" class="bl" text-anchor="end" textLength="14.6" lengthAdjust="spacingAndGlyphs">20</text>
<text x="324.0" y="469.8" class="bl" text-anchor="end" textLength="14.6" lengthAdjust="spacingAndGlyphs">30</text>
<text x="324.0" y="431.4" class="bl" text-anchor="end" textLength="14.6" lengthAdjust="spacingAndGlyphs">40</text>
<text x="324.0" y="394.3" class="bl" text-anchor="end" textLength="14.6" lengthAdjust="spacingAndGlyphs">50</text>
<text x="392.4" y="475.8" class="star" text-anchor="middle">*</text>
<text x="418.3" y="492.8" class="star" text-anchor="middle">**</text>
<text transform="translate(69.8 521) rotate(-90)" class="t19" textLength="96" lengthAdjust="spacingAndGlyphs">% cell death</text>
<text x="1" y="600.5" class="t15">VP-16</text>
<text x="1" y="621" class="t15">zVAD (</text>
<text x="49.6" y="621" class="mu" textLength="9.8" lengthAdjust="spacingAndGlyphs">μ</text>
<text x="59.6" y="621" class="t15" textLength="15" lengthAdjust="spacingAndGlyphs">M</text>
<text x="74.8" y="621" class="t15">)</text>
<text x="1" y="641.2" class="t15" textLength="66.8" lengthAdjust="spacingAndGlyphs">calp.inh. (</text>
<text x="68.2" y="641.2" class="mu" textLength="9.8" lengthAdjust="spacingAndGlyphs">μ</text>
<text x="78.2" y="641.2" class="t15" textLength="15" lengthAdjust="spacingAndGlyphs">M</text>
<text x="93.4" y="641.2" class="t15">)</text>
<text x="119.9" y="601.3" class="pm" text-anchor="middle">-</text>
<text x="142.8" y="601.3" class="pm" text-anchor="middle">+</text>
<text x="171.3" y="601.3" class="pm" text-anchor="middle">+</text>
<text x="196.0" y="601.3" class="pm" text-anchor="middle">+</text>
<text x="239.6" y="601.3" class="pm" text-anchor="middle">+</text>
<text x="268.8" y="601.3" class="pm" text-anchor="middle">+</text>
<text x="118.0" y="621.5" class="t15" text-anchor="middle">-</text>
<text x="139.1" y="621.5" class="t15" text-anchor="middle">-</text>
<text x="169.6" y="621.5" class="t15" text-anchor="middle">25</text>
<text x="193.2" y="621.5" class="t15" text-anchor="middle">50</text>
<text x="239.6" y="621.5" class="t15" text-anchor="middle">-</text>
<text x="268.2" y="621.5" class="t15" text-anchor="middle">-</text>
<text x="117.0" y="641.5" class="t15" text-anchor="middle">-</text>
<text x="138.2" y="641.5" class="t15" text-anchor="middle">-</text>
<text x="166.6" y="641.5" class="t15" text-anchor="middle">-</text>
<text x="192.0" y="641.5" class="t15" text-anchor="middle">-</text>
<text x="241.6" y="641.5" class="t15" text-anchor="middle">10</text>
<text x="270.0" y="641.5" class="t15" text-anchor="middle">25</text>
<text x="347.9" y="601.3" class="pm" text-anchor="middle">-</text>
<text x="374.3" y="601.3" class="pm" text-anchor="middle">+</text>
<text x="399.2" y="601.3" class="pm" text-anchor="middle">+</text>
<text x="423.8" y="601.3" class="pm" text-anchor="middle">+</text>
<text x="472.2" y="601.3" class="pm" text-anchor="middle">+</text>
<text x="497.4" y="601.3" class="pm" text-anchor="middle">+</text>
<text x="345.0" y="621.5" class="t15" text-anchor="middle">-</text>
<text x="369.5" y="621.5" class="t15" text-anchor="middle">-</text>
<text x="396.0" y="621.5" class="t15" text-anchor="middle">25</text>
<text x="423.4" y="621.5" class="t15" text-anchor="middle">50</text>
<text x="469.5" y="621.5" class="t15" text-anchor="middle">-</text>
<text x="498.3" y="621.5" class="t15" text-anchor="middle">-</text>
<text x="344.1" y="641.5" class="t15" text-anchor="middle">-</text>
<text x="368.6" y="641.5" class="t15" text-anchor="middle">-</text>
<text x="393.5" y="641.5" class="t15" text-anchor="middle">-</text>
<text x="422.6" y="641.5" class="t15" text-anchor="middle">-</text>
<text x="468.4" y="641.5" class="t15" text-anchor="middle">10</text>
<text x="496.0" y="641.5" class="t15" text-anchor="middle">25</text>
</svg>
</body></html>
